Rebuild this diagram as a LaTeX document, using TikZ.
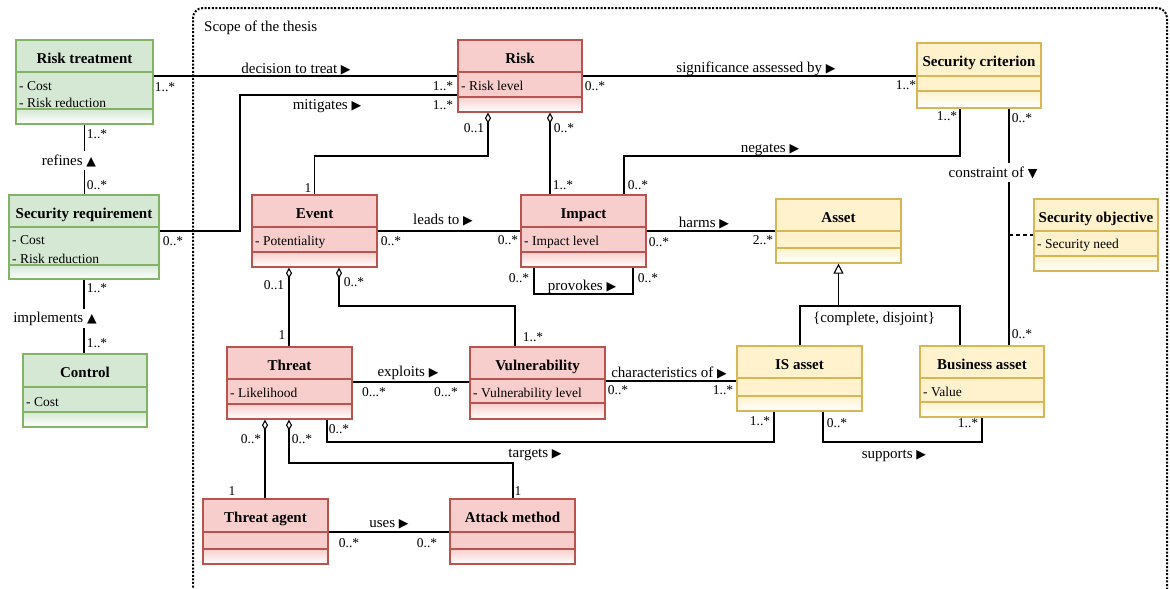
\documentclass[tikz,border=0pt]{standalone}
\usepackage{fontspec}
\setmainfont{Liberation Serif}
\newfontfamily\symfont{DejaVu Sans}
\usetikzlibrary{fit,arrows.meta}

\definecolor{gfill}{HTML}{D5E8D4}
\definecolor{gline}{HTML}{82B366}
\definecolor{rfill}{HTML}{F8CECC}
\definecolor{rline}{HTML}{B85450}
\definecolor{yfill}{HTML}{FFF2CC}
\definecolor{yline}{HTML}{D6B656}

% reading-direction triangles for association names
\newcommand\triR{{\symfont\fontsize{12.5}{12}\selectfont ▶}}
\newcommand\triU{{\symfont\fontsize{12.5}{12}\selectfont ▲}}
\newcommand\triD{{\symfont\fontsize{12.5}{12}\selectfont ▼}}

% UML class with three compartments:
% #1 name, #2 palette (g/r/y), #3 left, #4 top, #5 right, #6 bottom,
% #7 header rule, #8 attribute rule, #9 class name
\newcommand\umlclass[9]{%
  \fill[#2fill] (#3,#4) rectangle (#5,#8);
  \shade[top color=#2fill, bottom color=white] (#3,#8) rectangle (#5,#6);
  \draw[#2line, boxline] (#3,#7) -- (#5,#7) (#3,#8) -- (#5,#8);
  \node[draw=#2line, boxline, inner sep=0pt, fit={(#3,#4) (#5,#6)}] (#1) {};
  \node[ctitle] (#1-name) at ({(#3+#5)/2},{(#4+#7)/2}) {#9};
}

\begin{document}
\begin{tikzpicture}[x=1pt,y=-1pt,
  boxline/.style={line width=1.2pt},
  ctitle/.style={font=\bfseries\fontsize{15}{17}\selectfont, anchor=base, yshift=-7pt, inner sep=0pt},
  attr/.style={font=\fontsize{13.5}{15}\selectfont, anchor=base west, inner sep=0pt, yshift=-0.7pt},
  mult/.style={font=\fontsize{13.5}{15}\selectfont, anchor=base, inner sep=0pt, yshift=-0.7pt},
  lbl/.style={font=\fontsize{15}{17}\selectfont, anchor=base, inner sep=1pt, yshift=-1pt},
  lblx/.style={lbl, fill=white, inner xsep=1pt, inner ysep=3pt},
  assoc/.style={draw=black, line width=1.1pt},
  agg/.style={assoc, {Diamond[open,length=11pt,width=6pt]}-},
  gen/.style={assoc, -{Triangle[open,length=10pt,width=10pt]}},
  scopebox/.style={draw=black, line width=2pt, dash pattern=on 2pt off 1.6pt,
    rounded corners=10pt, inner sep=0pt}
]
\useasboundingbox (0,0) rectangle (1170,589);

% scope frame
\node[scopebox, fit={(193,8) (1167,600)}] (scope) {};
\node[lbl, anchor=base west] (scope-title) at (203,30) {Scope of the thesis};

% classes
\umlclass{rtreat}{g}{16}{40}{153}{124}{72}{109}{Risk treatment}
\umlclass{sreq}{g}{9}{195}{159}{279}{227}{265}{Security requirement}
\umlclass{ctrl}{g}{23}{354}{147}{427}{387}{412}{Control}
\umlclass{risk}{r}{458}{40}{582}{112}{72}{97}{Risk}
\umlclass{scrit}{y}{917}{43}{1041}{108}{76}{91}{Security criterion}
\umlclass{event}{r}{252}{195}{377}{267}{227}{252}{Event}
\umlclass{impact}{r}{521}{195}{646}{267}{227}{252}{Impact}
\umlclass{asset}{y}{776}{199}{901}{263}{231}{248}{Asset}
\umlclass{sobj}{y}{1034}{199}{1158}{271}{231}{256}{Security objective}
\umlclass{threat}{r}{227}{347}{352}{419}{379}{404}{Threat}
\umlclass{vuln}{r}{470}{347}{605}{419}{379}{403}{Vulnerability}
\umlclass{isasset}{y}{737}{346}{862}{411}{378}{396}{IS asset}
\umlclass{basset}{y}{920}{346}{1044}{417}{378}{402}{Business asset}
\umlclass{tagent}{r}{203}{499}{328}{564}{532}{549}{Threat agent}
\umlclass{attack}{r}{450}{499}{575}{564}{532}{549}{Attack method}

% attributes
\node[attr] (rtreat-a1) at (19,90) {- Cost};
\node[attr] (rtreat-a2) at (19,107) {- Risk reduction};
\node[attr] (sreq-a1) at (12,244) {- Cost};
\node[attr] (sreq-a2) at (12,263) {- Risk reduction};
\node[attr] (ctrl-a1) at (26,406) {- Cost};
\node[attr] (risk-a1) at (461,90) {- Risk level};
\node[attr] (event-a1) at (255,245) {- Potentiality};
\node[attr] (impact-a1) at (524,245) {- Impact level};
\node[attr] (sobj-a1) at (1037,248) {- Security need};
\node[attr] (threat-a1) at (230,397) {- Likelihood};
\node[attr] (vuln-a1) at (473,397) {- Vulnerability level};
\node[attr] (basset-a1) at (923,396) {- Value};

% associations
\draw[assoc] (rtreat.east |- 0,76) -- (risk.west |- 0,76);
\draw[assoc] (sreq.east |- 0,231) -- (240,231) -- (240,95) -- (risk.west |- 0,95);
\draw[assoc] (rtreat.south) -- (rtreat.south |- sreq.north);
\draw[assoc] (sreq.south) -- (sreq.south |- ctrl.north);
\draw[assoc] (risk.east |- 0,76) -- (scrit.west |- 0,76);
\draw[agg] (risk.south -| 488,0) -- (488,156) -| (event.north);
\draw[agg] (risk.south -| 550,0) -- (impact.north -| 550,0);
\draw[assoc] (scrit.south -| 960,0) -- (960,156) -| (impact.north -| 624,0);
\draw[assoc] (scrit.south -| 1009,0) -- (basset.north -| 1009,0);
\coordinate (cjoin) at (1009,235);
\draw[assoc, dash pattern=on 4pt off 3pt] (cjoin) -- (sobj.west |- cjoin);
\draw[assoc] (event.east |- 0,231) -- (impact.west |- 0,231);
\draw[assoc] (impact.south -| 534,0) -- (534,294) -| (impact.south -| 633,0);
\draw[assoc] (impact.east |- 0,231) -- (asset.west |- 0,231);
\draw[agg] (event.south -| 289,0) -- (threat.north -| 289,0);
\draw[agg] (event.south -| 339,0) -- (339,306) -| (vuln.north -| 515,0);
\draw[assoc] (threat.east |- 0,382) -- (vuln.west |- 0,382);
\draw[assoc] (vuln.east |- 0,381) -- (isasset.west |- 0,381);
\draw[assoc] (isasset.north -| 800,0) -- (800,306) -- (960,306) -- (basset.north -| 960,0);
\draw[gen] (asset.south |- 0,306) -- (asset.south);
\draw[assoc] (threat.south -| 327,0) -- (327,442) -| (isasset.south -| 774,0);
\draw[agg] (threat.south -| 265,0) -- (tagent.north -| 265,0);
\draw[agg] (threat.south -| 289,0) -- (289,463) -| (attack.north -| 513,0);
\draw[assoc] (tagent.east |- 0,532) -- (attack.west |- 0,532);
\draw[assoc] (isasset.south -| 823,0) -- (823,442) -| (basset.south);

% association names
\node[lbl] (l-dec) at (296,72) {decision to treat \triR};
\node[lbl] (l-mit) at (327,108) {mitigates \triR};
\node[lblx] (l-ref) at (69,164) {refines \triU};
\node[lblx] (l-imp) at (55,321) {implements \triU};
\node[lbl] (l-sig) at (756,71) {significance assessed by \triR};
\node[lbl] (l-neg) at (770,151) {negates \triR};
\node[lblx] (l-con) at (993,176) {constraint of \triD};
\node[lbl] (l-lead) at (443,223) {leads to \triR};
\node[lbl] (l-harm) at (704,226) {harms \triR};
\node[lbl] (l-prov) at (582,289) {provokes \triR};
\node[lbl] (l-expl) at (408,375) {exploits \triR};
\node[lbl] (l-char) at (669,376) {characteristics of \triR};
\node[lbl] (l-gen) at (874,321) {\{complete, disjoint\}};
\node[lbl] (l-targ) at (535,456) {targets \triR};
\node[lbl] (l-uses) at (389,526) {uses \triR};
\node[lbl] (l-supp) at (894,457) {supports \triR};

% multiplicities
\node[mult] (m1) at (165,91) {1..*};
\node[mult] (m2) at (443,90) {1..*};
\node[mult] (m3) at (173,245) {0..*};
\node[mult] (m4) at (443,109) {1..*};
\node[mult] (m5) at (97,138) {1..*};
\node[mult] (m6) at (97,189) {0..*};
\node[mult] (m7) at (97,292) {1..*};
\node[mult] (m8) at (97,347) {1..*};
\node[mult] (m9) at (595,90) {0..*};
\node[mult] (m10) at (906,89) {1..*};
\node[mult] (m11) at (474,132) {0..1};
\node[mult] (m12) at (308,192) {1};
\node[mult] (m13) at (564,132) {0..*};
\node[mult] (m14) at (563,189) {1..*};
\node[mult] (m15) at (638,189) {0..*};
\node[mult] (m16) at (947,120) {1..*};
\node[mult] (m17) at (1022,122) {0..*};
\node[mult] (m18) at (1022,338) {0..*};
\node[mult] (m19) at (391,245) {0..*};
\node[mult] (m20) at (508,244) {0..*};
\node[mult] (m21) at (659,246) {0..*};
\node[mult] (m22) at (763,244) {2..*};
\node[mult] (m23) at (519,282) {0..*};
\node[mult] (m24) at (648,282) {0..*};
\node[mult] (m25) at (274,289) {0..1};
\node[mult] (m26) at (282,339) {1};
\node[mult] (m27) at (354,286) {0..*};
\node[mult] (m28) at (533,341) {1..*};
\node[mult] (m29) at (374,396) {0...*};
\node[mult] (m30) at (446,396) {0...*};
\node[mult] (m31) at (618,394) {0..*};
\node[mult] (m32) at (723,394) {1..*};
\node[mult] (m33) at (339,433) {0..*};
\node[mult] (m34) at (760,425) {1..*};
\node[mult] (m35) at (251,443) {0..*};
\node[mult] (m36) at (232,495) {1};
\node[mult] (m37) at (302,443) {0..*};
\node[mult] (m38) at (518,495) {1};
\node[mult] (m39) at (349,547) {0..*};
\node[mult] (m40) at (427,547) {0..*};
\node[mult] (m41) at (837,427) {0..*};
\node[mult] (m42) at (968,427) {1..*};
\end{tikzpicture}
\end{document}
